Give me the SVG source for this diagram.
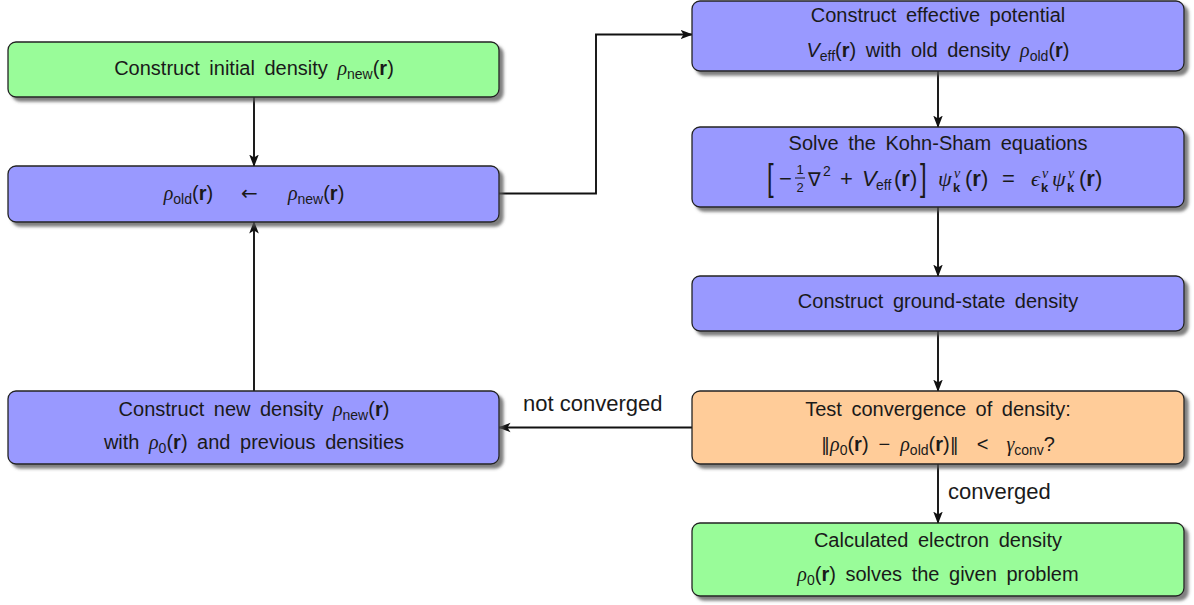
<svg xmlns="http://www.w3.org/2000/svg" width="1194" height="605" viewBox="0 0 1194 605">
  <style>
    .box { stroke: #222; stroke-width: 1.3; filter: url(#shadow); }
    .green { fill: #99fc99; }
    .blue { fill: #9999ff; }
    .orange { fill: #ffcc99; }
    .t { font-family: "Liberation Sans", Arial, sans-serif; font-size: 20px; fill: #1a1a1a; word-spacing: 4px; }
    .c { text-anchor: middle; }
    .g { font-family: "Liberation Serif", "DejaVu Serif", serif; font-style: italic; }
    .s { font-size: 14px; }
    .b { font-weight: bold; }
    .m { font-size: 22px; }
    .sym { font-family: "DejaVu Sans", sans-serif; }
    .norm { font-family: "DejaVu Sans", sans-serif; font-size: 18px; }
    .lbl { font-family: "Liberation Sans", Arial, sans-serif; font-size: 22px; fill: #1a1a1a; }
    .edge { fill: none; stroke: #111; stroke-width: 1.9; marker-end: url(#arrow); }
  </style>
  <defs>
    <filter id="shadow" x="-5%" y="-10%" width="115%" height="130%">
      <feGaussianBlur in="SourceAlpha" stdDeviation="1.4" result="blur"/>
      <feOffset in="blur" dx="4" dy="4" result="off"/>
      <feFlood flood-color="#555" flood-opacity="0.75"/>
      <feComposite in2="off" operator="in" result="sh"/>
      <feMerge>
        <feMergeNode in="sh"/>
        <feMergeNode in="SourceGraphic"/>
      </feMerge>
    </filter>
    <marker id="arrow" markerUnits="userSpaceOnUse" markerWidth="14" markerHeight="12" viewBox="0 -6 14 12" refX="11.5" refY="0" orient="auto">
      <path d="M0,-4.8 L12.5,0 L0,4.8 L3,0 z" fill="#111"/>
    </marker>
  </defs>

  <!-- connectors -->
  <g id="connectors">
    <path class="edge" d="M254,97 V166"/>
    <path class="edge" d="M254,391 V222"/>
    <path class="edge" d="M499,193.5 H596 V34.5 H692"/>
    <path class="edge" d="M938,71 V127"/>
    <path class="edge" d="M938,207 V276"/>
    <path class="edge" d="M938,331 V391"/>
    <path class="edge" d="M692,427.5 H499"/>
    <path class="edge" d="M938,464 V523"/>
    <text class="lbl" x="523" y="411">not converged</text>
    <text class="lbl" x="948" y="499">converged</text>
  </g>

  <!-- left column -->
  <g id="init">
    <rect class="box green" x="8" y="42" width="491" height="55" rx="8"/>
    <text class="t c" x="254" y="75">Construct initial density <tspan class="g">ρ</tspan><tspan class="s" dy="4">new</tspan><tspan dy="-4">(</tspan><tspan class="b">r</tspan>)</text>
  </g>

  <g id="assign">
    <rect class="box blue" x="8" y="166" width="491" height="56" rx="8"/>
    <text class="t c" x="254" y="200"><tspan class="g">ρ</tspan><tspan class="s" dy="4">old</tspan><tspan dy="-4">(</tspan><tspan class="b">r</tspan>)<tspan class="sym" dx="28">←</tspan><tspan class="g" dx="30">ρ</tspan><tspan class="s" dy="4">new</tspan><tspan dy="-4">(</tspan><tspan class="b">r</tspan>)</text>
  </g>

  <g id="mix">
    <rect class="box blue" x="8" y="391" width="491" height="73" rx="8"/>
    <text class="t c" x="254" y="416">Construct new density <tspan class="g">ρ</tspan><tspan class="s" dy="4">new</tspan><tspan dy="-4">(</tspan><tspan class="b">r</tspan>)</text>
    <text class="t c" x="254" y="449">with <tspan class="g">ρ</tspan><tspan class="s" dy="4">0</tspan><tspan dy="-4">(</tspan><tspan class="b">r</tspan>) and previous densities</text>
  </g>

  <!-- right column -->
  <g id="potential">
    <rect class="box blue" x="692" y="1" width="492" height="70" rx="8"/>
    <text class="t c" x="938" y="22">Construct effective potential</text>
    <text class="t c" x="938" y="57"><tspan font-style="italic">V</tspan><tspan class="s" dy="4">eff</tspan><tspan dy="-4">(</tspan><tspan class="b">r</tspan>) with old density <tspan class="g">ρ</tspan><tspan class="s" dy="4">old</tspan><tspan dy="-4">(</tspan><tspan class="b">r</tspan>)</text>
  </g>

  <g id="kohn-sham">
    <rect class="box blue" x="692" y="127" width="492" height="80" rx="8"/>
    <text class="t c" x="938" y="150">Solve the Kohn-Sham equations</text>
    <g class="t">
      <text transform="translate(767,190) scale(1,1.55)" font-size="24">[</text>
      <text class="m" x="779" y="186">−</text>
      <text x="800" y="174" font-size="13" text-anchor="middle">1</text>
      <line x1="795" y1="178" x2="805" y2="178" stroke="#1a1a1a" stroke-width="1"/>
      <text x="800" y="192" font-size="13" text-anchor="middle">2</text>
      <text class="sym" x="808" y="186" font-size="19">∇</text>
      <text x="823" y="176" font-size="14">2</text>
      <text class="m" x="840" y="186">+</text>
      <text class="m" x="862" y="186" font-style="italic">V</text>
      <text x="876" y="190" font-size="14">eff</text>
      <text class="m" x="894" y="186">(<tspan class="b">r</tspan>)</text>
      <text transform="translate(920,190) scale(1,1.55)" font-size="24">]</text>
      <text class="g m" x="938" y="186">ψ</text>
      <text class="g" x="954" y="178" font-size="14">ν</text>
      <text class="b" x="953" y="192" font-size="13">k</text>
      <text class="m" x="965" y="186">(<tspan class="b">r</tspan>)</text>
      <text class="m" x="1002" y="186">=</text>
      <text class="g m" x="1031" y="186">ϵ</text>
      <text class="g" x="1042" y="178" font-size="14">ν</text>
      <text class="b" x="1041" y="192" font-size="13">k</text>
      <text class="g m" x="1052" y="186">ψ</text>
      <text class="g" x="1068" y="178" font-size="14">ν</text>
      <text class="b" x="1067" y="192" font-size="13">k</text>
      <text class="m" x="1079" y="186">(<tspan class="b">r</tspan>)</text>
    </g>
  </g>

  <g id="ground-state">
    <rect class="box blue" x="692" y="276" width="492" height="55" rx="8"/>
    <text class="t c" x="938" y="308">Construct ground-state density</text>
  </g>

  <g id="convergence">
    <rect class="box orange" x="692" y="391" width="492" height="73" rx="8"/>
    <text class="t c" x="938" y="416">Test convergence of density:</text>
    <text class="t c" x="938" y="451"><tspan class="norm">‖</tspan><tspan class="g">ρ</tspan><tspan class="s" dy="4">0</tspan><tspan dy="-4">(</tspan><tspan class="b">r</tspan>)<tspan dx="10">−</tspan><tspan class="g" dx="10">ρ</tspan><tspan class="s" dy="4">old</tspan><tspan dy="-4">(</tspan><tspan class="b">r</tspan>)<tspan class="norm">‖</tspan><tspan dx="18">&lt;</tspan><tspan class="g" dx="18">γ</tspan><tspan class="s" dy="4">conv</tspan><tspan dy="-4">?</tspan></text>
  </g>

  <g id="result">
    <rect class="box green" x="692" y="523" width="492" height="73" rx="8"/>
    <text class="t c" x="938" y="547">Calculated electron density</text>
    <text class="t c" x="938" y="581"><tspan class="g">ρ</tspan><tspan class="s" dy="4">0</tspan><tspan dy="-4">(</tspan><tspan class="b">r</tspan>) solves the given problem</text>
  </g>
</svg>
